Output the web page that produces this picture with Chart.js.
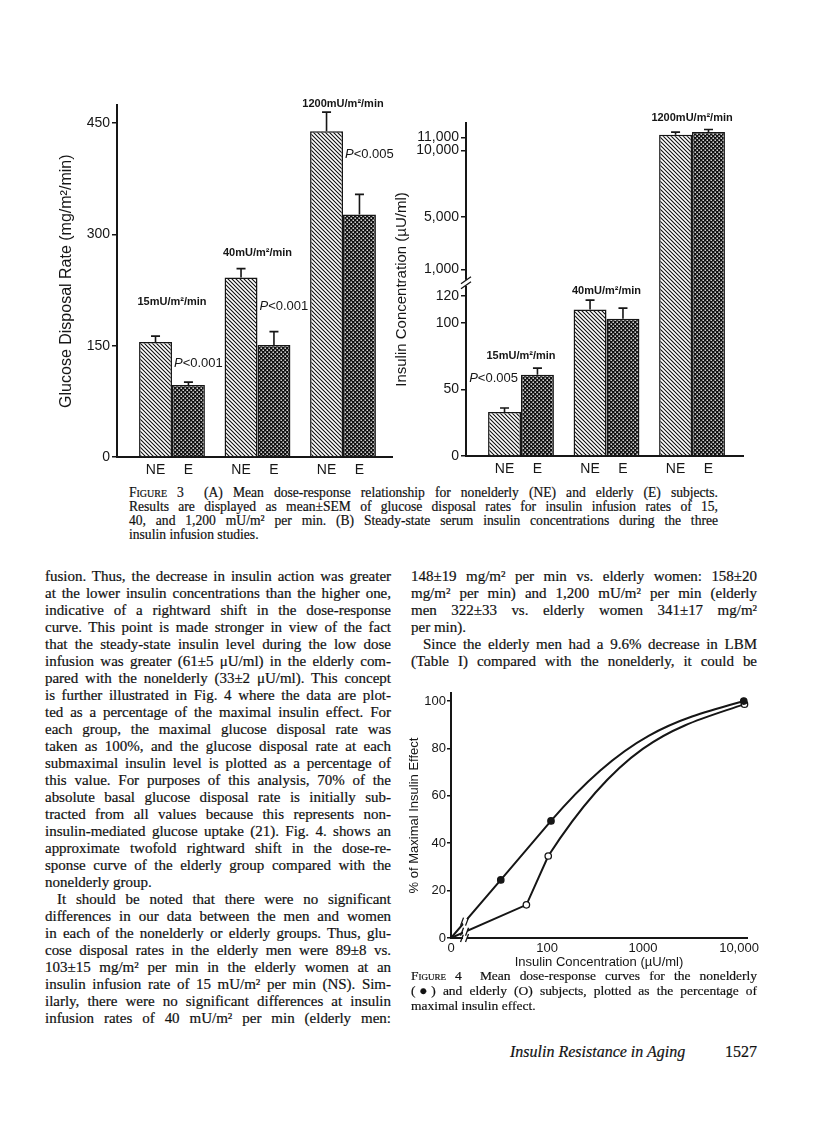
<!DOCTYPE html>
<html lang="en">
<head>
<meta charset="UTF-8">
<title>Insulin Resistance in Aging - Figures 3 and 4</title>
<script src="https://cdn.jsdelivr.net/npm/chart.js"></script>
<style>
    body { margin: 0; background: #fff; }
    #page { position: relative; width: 816px; height: 1127px; overflow: hidden; color: #111; font-family: "Liberation Serif", "Times New Roman", serif; -webkit-text-stroke: 0.2px #111; }
    canvas { position: absolute; }
    .block { position: absolute; }
    .ln { text-align: justify; text-align-last: justify; }
    .ln.end { text-align: left; text-align-last: left; }
    .ln.ind { padding-left: 12px; }
    .body { font-size: 15px; line-height: 17px; }
    .cap { font-size: 13.6px; line-height: 14px; }
    .cap4 { font-size: 13.5px; line-height: 15px; }
    .sc { font-variant: small-caps; }
    .foot { position: absolute; top: 1043px; font-size: 16px; line-height: 17px; }
</style>
</head>
<body>
<div id="page">
    <canvas id="glucoseChart" width="342" height="390" style="left:52px; top:95px;"></canvas>
    <canvas id="insulinChart" width="370" height="390" style="left:390px; top:95px;"></canvas>

    <div class="block cap" style="left:129px; top:486px; width:589px;">
        <div class="ln"><span class="sc">Figure 3</span>&nbsp; (A) Mean dose-response relationship for nonelderly (NE) and elderly (E) subjects.</div>
        <div class="ln">Results are displayed as mean±SEM of glucose disposal rates for insulin infusion rates of 15,</div>
        <div class="ln">40, and 1,200 mU/m² per min. (B) Steady-state serum insulin concentrations during the three</div>
        <div class="ln end">insulin infusion studies.</div>
    </div>

    <div class="block body" style="left:45px; top:568px; width:346px;">
        <div class="ln">fusion. Thus, the decrease in insulin action was greater</div>
        <div class="ln">at the lower insulin concentrations than the higher one,</div>
        <div class="ln">indicative of a rightward shift in the dose-response</div>
        <div class="ln">curve. This point is made stronger in view of the fact</div>
        <div class="ln">that the steady-state insulin level during the low dose</div>
        <div class="ln">infusion was greater (61±5 μU/ml) in the elderly com-</div>
        <div class="ln">pared with the nonelderly (33±2 μU/ml). This concept</div>
        <div class="ln">is further illustrated in Fig. 4 where the data are plot-</div>
        <div class="ln">ted as a percentage of the maximal insulin effect. For</div>
        <div class="ln">each group, the maximal glucose disposal rate was</div>
        <div class="ln">taken as 100%, and the glucose disposal rate at each</div>
        <div class="ln">submaximal insulin level is plotted as a percentage of</div>
        <div class="ln">this value. For purposes of this analysis, 70% of the</div>
        <div class="ln">absolute basal glucose disposal rate is initially sub-</div>
        <div class="ln">tracted from all values because this represents non-</div>
        <div class="ln">insulin-mediated glucose uptake (21). Fig. 4. shows an</div>
        <div class="ln">approximate twofold rightward shift in the dose-re-</div>
        <div class="ln">sponse curve of the elderly group compared with the</div>
        <div class="ln end">nonelderly group.</div>
        <div class="ln ind">It should be noted that there were no significant</div>
        <div class="ln">differences in our data between the men and women</div>
        <div class="ln">in each of the nonelderly or elderly groups. Thus, glu-</div>
        <div class="ln">cose disposal rates in the elderly men were 89±8 vs.</div>
        <div class="ln">103±15 mg/m² per min in the elderly women at an</div>
        <div class="ln">insulin infusion rate of 15 mU/m² per min (NS). Sim-</div>
        <div class="ln">ilarly, there were no significant differences at insulin</div>
        <div class="ln">infusion rates of 40 mU/m² per min (elderly men:</div>
    </div>

    <div class="block body" style="left:411px; top:568px; width:346px;">
        <div class="ln">148±19 mg/m² per min vs. elderly women: 158±20</div>
        <div class="ln">mg/m² per min) and 1,200 mU/m² per min (elderly</div>
        <div class="ln">men 322±33 vs. elderly women 341±17 mg/m²</div>
        <div class="ln end">per min).</div>
        <div class="ln ind">Since the elderly men had a 9.6% decrease in LBM</div>
        <div class="ln">(Table I) compared with the nonelderly, it could be</div>
    </div>

    <canvas id="effectChart" width="362" height="300" style="left:403px; top:680px;"></canvas>

    <div class="block cap4" style="left:411px; top:968px; width:346px;">
        <div class="ln"><span class="sc">Figure 4</span>&nbsp; Mean dose-response curves for the nonelderly</div>
        <div class="ln">(●) and elderly (O) subjects, plotted as the percentage of</div>
        <div class="ln end">maximal insulin effect.</div>
    </div>

    <div class="foot" style="left:510px;"><i>Insulin Resistance in Aging</i></div>
    <div class="foot" style="left:725px;">1527</div>
</div>

<script>
    // ---- data ----
    var doses = ['15mU/m²/min', '40mU/m²/min', '1200mU/m²/min'];

    // Fig 3A glucose disposal rate (mg/m2/min), mean and SEM
    var glucoseNE = [155, 242, 439];
    var glucoseNEsem = [8, 12, 26];
    var glucoseE = [97, 151, 327];
    var glucoseEsem = [4, 18, 27];
    var glucoseTicks = [0, 150, 300, 450];
    var glucoseP = ['P<0.001', 'P<0.001', 'P<0.005'];

    // Fig 3B insulin concentration (uU/ml), mean and SEM
    var insulinNE = [33, 110, 11200];
    var insulinNEsem = [3, 7, 200];
    var insulinE = [61, 103, 11400];
    var insulinEsem = [5, 8, 200];
    var insulinTicks = [0, 50, 100, 120, 1000, 5000, 10000, 11000];
    var insulinP = ['P<0.005', '', ''];

    // Fig 4 percent of maximal insulin effect vs insulin concentration
    var concNE = [0, 33, 110, 11200];
    var effectNE = [0, 24.5, 49.4, 100];
    var concE = [0, 61, 103, 11400];
    var effectE = [0, 14, 34.6, 98.7];
    var effectTicksX = [0, 100, 1000, 10000];
    var effectTicksY = [0, 20, 40, 60, 80, 100];

    var INK = '#161616';
    Chart.defaults.font.family = '"Liberation Sans", Arial, sans-serif';
    Chart.defaults.color = INK;
    Chart.defaults.animation = false;
    Chart.defaults.plugins.legend.display = false;
    Chart.defaults.plugins.tooltip.enabled = false;

    // keep each printed line on one line, then justify it
    function fitLines() {
        document.querySelectorAll('.ln').forEach(function (el) {
            var span = document.createElement('span');
            span.style.whiteSpace = 'nowrap';
            while (el.firstChild) span.appendChild(el.firstChild);
            el.appendChild(span);
            var room = el.clientWidth - parseFloat(getComputedStyle(el).paddingLeft) - 1;
            var natural = span.getBoundingClientRect().width;
            if (natural > room) {
                el.style.letterSpacing = ((room - natural) / span.textContent.length) + 'px';
            }
            while (span.firstChild) el.insertBefore(span.firstChild, span);
            el.removeChild(span);
        });
    }
    fitLines();

    // linear scale with a warped value -> axis mapping (broken / log axes)
    function registerWarpedScale(id, lo, hi, toAxis) {
        class WarpedScale extends Chart.LinearScale {
            determineDataLimits() { this.min = lo; this.max = hi; }
            getPixelForValue(value) { return super.getPixelForValue(toAxis(value)); }
        }
        WarpedScale.id = id;
        WarpedScale.defaults = Chart.LinearScale.defaults;
        Chart.register(WarpedScale);
    }
    function insulinToAxis(v) {
        if (v <= 120) return v;
        if (v >= 1000) return 140 + (v - 1000) * 0.00992;
        return 120 + (v - 120) / 880 * 20;
    }
    registerWarpedScale('insulinBroken', 0, 250, insulinToAxis);
    registerWarpedScale('concLog', 1, 4.083, function (v) { return Math.log10(Math.max(v, 10)); });

    // fill patterns
    function makePattern(draw) {
        var c = document.createElement('canvas');
        c.width = 4; c.height = 4;
        draw(c.getContext('2d'));
        return document.createElement('canvas').getContext('2d').createPattern(c, 'repeat');
    }
    var hatch = makePattern(function (g) {
        g.fillStyle = '#fff'; g.fillRect(0, 0, 4, 4);
        g.strokeStyle = '#111'; g.lineWidth = 1.1;
        g.beginPath();
        g.moveTo(-1, -1); g.lineTo(5, 5);
        g.moveTo(-1, 3); g.lineTo(1, 5);
        g.moveTo(3, -1); g.lineTo(5, 1);
        g.stroke();
    });
    var dots = makePattern(function (g) {
        g.fillStyle = '#111'; g.fillRect(0, 0, 4, 4);
        g.fillStyle = '#fff';
        g.fillRect(0.5, 0.5, 1.4, 1.4);
        g.fillRect(2.5, 2.5, 1.4, 1.4);
    });

    function breakMark(ctx, x, y, vertical) {
        ctx.save();
        ctx.fillStyle = '#fff';
        ctx.strokeStyle = INK;
        ctx.lineWidth = 1.3;
        ctx.beginPath();
        if (vertical) {
            ctx.fillRect(x - 3, y - 3, 6, 6);
            ctx.moveTo(x - 5, y + 1); ctx.lineTo(x + 5, y - 6);
            ctx.moveTo(x - 5, y + 6); ctx.lineTo(x + 5, y - 1);
        } else {
            ctx.fillRect(x - 2, y - 3, 4, 6);
            ctx.moveTo(x - 4.5, y + 4); ctx.lineTo(x - 1.5, y - 4);
            ctx.moveTo(x + 0.5, y + 4); ctx.lineTo(x + 3.5, y - 4);
        }
        ctx.stroke();
        ctx.restore();
    }

    // error bars, NE/E labels, dose labels and P values
    var barNotes = {
        id: 'barNotes',
        afterDatasetsDraw: function (chart, args, opts) {
            var ctx = chart.ctx, ys = chart.scales.y, area = chart.chartArea;
            var sets = chart.data.datasets;
            var tops = [[], []];
            ctx.save();
            ctx.strokeStyle = INK;
            ctx.fillStyle = INK;
            ctx.lineWidth = 1.6;
            sets.forEach(function (ds, di) {
                chart.getDatasetMeta(di).data.forEach(function (bar, i) {
                    var top = ys.getPixelForValue(ds.data[i].y + ds.sem[i]);
                    tops[di][i] = top;
                    ctx.beginPath();
                    ctx.moveTo(bar.x, bar.y); ctx.lineTo(bar.x, top);
                    ctx.moveTo(bar.x - 4.5, top); ctx.lineTo(bar.x + 4.5, top);
                    ctx.stroke();
                    ctx.font = '14px "Liberation Sans", Arial, sans-serif';
                    ctx.textAlign = 'center';
                    ctx.textBaseline = 'middle';
                    ctx.fillText(ds.label, bar.x, area.bottom + 13);
                });
            });
            var ne = chart.getDatasetMeta(0).data, el = chart.getDatasetMeta(1).data;
            doses.forEach(function (d, i) {
                var cx = (ne[i].x + el[i].x) / 2;
                var top = Math.min(tops[0][i], tops[1][i]);
                ctx.font = 'bold 11px "Liberation Sans", Arial, sans-serif';
                ctx.textAlign = 'center';
                ctx.textBaseline = 'middle';
                ctx.fillText(d, cx, top - opts.doseGap[i]);
            });
            opts.pText.forEach(function (t, i) {
                if (!t) return;
                var bar = el[i];
                var y = tops[1][i] - opts.pGap[i];
                var italic = 'italic 13px "Liberation Sans", Arial, sans-serif';
                var plain = '13px "Liberation Sans", Arial, sans-serif';
                ctx.font = italic; var wP = ctx.measureText('P').width;
                ctx.font = plain; var wR = ctx.measureText(t.slice(1)).width;
                var x = opts.pAlign === 'right' ? bar.x - bar.width / 2 - 3 - wP - wR : bar.x - bar.width / 2 + 2;
                ctx.textAlign = 'left';
                ctx.textBaseline = 'middle';
                ctx.font = italic; ctx.fillText('P', x, y);
                ctx.font = plain; ctx.fillText(t.slice(1), x + wP, y);
            });
            if (opts.yBreak) {
                var by = (ys.getPixelForValue(120) + ys.getPixelForValue(1000)) / 2;
                breakMark(ctx, area.left, by, true);
            }
            ctx.restore();
        }
    };

    function barData(ne, neSem, e, eSem) {
        return [
            { label: 'NE', data: ne.map(function (v, i) { return { x: i + 1, y: v }; }), sem: neSem,
              backgroundColor: hatch, borderColor: INK, borderWidth: 1.5 },
            { label: 'E', data: e.map(function (v, i) { return { x: i + 1, y: v }; }), sem: eSem,
              backgroundColor: dots, borderColor: INK, borderWidth: 1.5 }
        ];
    }

    function groupAxis(min, max, height) {
        return {
            type: 'linear', min: min, max: max, offset: false,
            grid: { display: false, drawTicks: false },
            ticks: { display: false },
            border: { display: true, color: INK, width: 2 },
            afterBuildTicks: function (s) { s.ticks = doses.map(function (d, i) { return { value: i + 1 }; }); },
            afterFit: function (s) { s.height = height; }
        };
    }

    function valueAxis(extra, ticks, title, titleSize, titlePad, width) {
        var axis = {
            grid: { display: true, drawOnChartArea: false, drawTicks: true, tickLength: 5, color: INK, lineWidth: 1.5 },
            border: { display: true, color: INK, width: 2 },
            ticks: { autoSkip: false, padding: 2, font: { size: 14 },
                     callback: function (v) { return v.toLocaleString('en-US'); } },
            title: { display: true, text: title, font: { size: titleSize }, padding: { top: titlePad, bottom: 0 } },
            afterBuildTicks: function (s) { s.ticks = ticks.map(function (v) { return { value: v }; }); },
            afterFit: function (s) { s.width = width; }
        };
        return Object.assign(axis, extra);
    }

    new Chart(document.getElementById('glucoseChart'), {
        type: 'bar',
        data: { datasets: barData(glucoseNE, glucoseNEsem, glucoseE, glucoseEsem) },
        options: {
            responsive: false,
            categoryPercentage: 0.77,
            barPercentage: 1,
            layout: { padding: { top: 10, right: 2, left: 0, bottom: 0 } },
            scales: {
                x: groupAxis(0.357, 3.573, 28),
                y: valueAxis({ type: 'linear', min: 0, max: 474 }, glucoseTicks,
                             'Glucose Disposal Rate (mg/m²/min)', 16, 5, 65)
            },
            plugins: { barNotes: { doseGap: [34, 16, 8], pText: glucoseP, pGap: [19, 25, 40], pAlign: 'left' } }
        },
        plugins: [barNotes]
    });

    new Chart(document.getElementById('insulinChart'), {
        type: 'bar',
        data: { datasets: barData(insulinNE, insulinNEsem, insulinE, insulinEsem) },
        options: {
            responsive: false,
            categoryPercentage: 0.77,
            barPercentage: 1,
            layout: { padding: { top: 28, right: 17, left: 0, bottom: 0 } },
            scales: {
                x: groupAxis(0.357, 3.596, 29),
                y: valueAxis({ type: 'insulinBroken', bounds: 'data' }, insulinTicks,
                             'Insulin Concentration (µU/ml)', 15, 3, 76)
            },
            plugins: { barNotes: { doseGap: [12, 9, 11], pText: insulinP, pGap: [-10, 0, 0], pAlign: 'right', yBreak: true } }
        },
        plugins: [barNotes]
    });

    // Fig 4: straight segments, last one drawn as a smooth arc; break marks near the origin
    var curveTail = {
        id: 'curveTail',
        beforeDatasetDraw: function (chart, args) {
            var meta = args.meta, pts = meta.data, n = pts.length;
            meta.dataset.updateControlPoints(chart.chartArea, meta.iScale.axis);
            pts.forEach(function (p) { p.cp1x = p.x; p.cp1y = p.y; p.cp2x = p.x; p.cp2y = p.y; });
            var P = pts[n - 3], A = pts[n - 2], B = pts[n - 1];
            var dx = B.x - A.x;
            var chord = (B.y - A.y) / dx;
            var sIn = (A.y - P.y) / (A.x - P.x);
            var sA = Math.max(sIn, 2 * chord);
            var sB = 0.45 * chord;
            A.cp2x = A.x + 0.4 * dx; A.cp2y = A.y + sA * 0.4 * dx;
            B.cp1x = B.x - 0.33 * dx; B.cp1y = B.y - sB * 0.33 * dx;
        },
        afterDatasetsDraw: function (chart) {
            var ctx = chart.ctx, xs = chart.scales.x, area = chart.chartArea;
            var bx = xs.getPixelForValue(14);
            breakMark(ctx, bx, area.bottom, false);
            chart.data.datasets.forEach(function (ds, di) {
                var pts = chart.getDatasetMeta(di).data;
                var p0 = pts[0], p1 = pts[1];
                var y = p0.y + (bx - p0.x) / (p1.x - p0.x) * (p1.y - p0.y);
                breakMark(ctx, bx, y, false);
            });
        }
    };

    function effectSet(label, xs, ys, fill) {
        return {
            label: label,
            data: xs.map(function (x, i) { return { x: x, y: ys[i] }; }),
            borderColor: INK, borderWidth: 2, tension: 0.3,
            pointRadius: function (c) { return c.dataIndex === 0 ? 0 : 3.2; },
            pointBackgroundColor: fill, pointBorderColor: INK, pointBorderWidth: 1.3
        };
    }

    new Chart(document.getElementById('effectChart'), {
        type: 'line',
        data: { datasets: [effectSet('Nonelderly', concNE, effectNE, INK), effectSet('Elderly', concE, effectE, '#fff')] },
        options: {
            responsive: false,
            layout: { padding: { top: 13, right: 18, left: 0, bottom: 0 } },
            scales: {
                x: {
                    type: 'concLog', bounds: 'data',
                    grid: { display: false, drawTicks: false },
                    border: { display: true, color: INK, width: 2 },
                    ticks: { autoSkip: false, maxRotation: 0, padding: 3, font: { size: 13 },
                             callback: function (v) { return v >= 10000 ? v.toLocaleString('en-US') : String(v); } },
                    title: { display: true, text: 'Insulin Concentration (µU/ml)', font: { size: 13 }, padding: { top: 0, bottom: 10 } },
                    afterBuildTicks: function (s) { s.ticks = effectTicksX.map(function (v) { return { value: v }; }); },
                    afterFit: function (s) { s.height = 42; }
                },
                y: {
                    type: 'linear', min: 0, max: 103.4,
                    grid: { display: true, drawOnChartArea: false, drawTicks: true, tickLength: 4, color: INK, lineWidth: 1.5 },
                    border: { display: true, color: INK, width: 2 },
                    ticks: { autoSkip: false, padding: 1, font: { size: 13 } },
                    title: { display: true, text: '% of Maximal Insulin Effect', font: { size: 13 }, padding: { top: 4, bottom: 0 } },
                    afterBuildTicks: function (s) { s.ticks = effectTicksY.map(function (v) { return { value: v }; }); },
                    afterFit: function (s) { s.width = 48; }
                }
            }
        },
        plugins: [curveTail]
    });
</script>
</body>
</html>
